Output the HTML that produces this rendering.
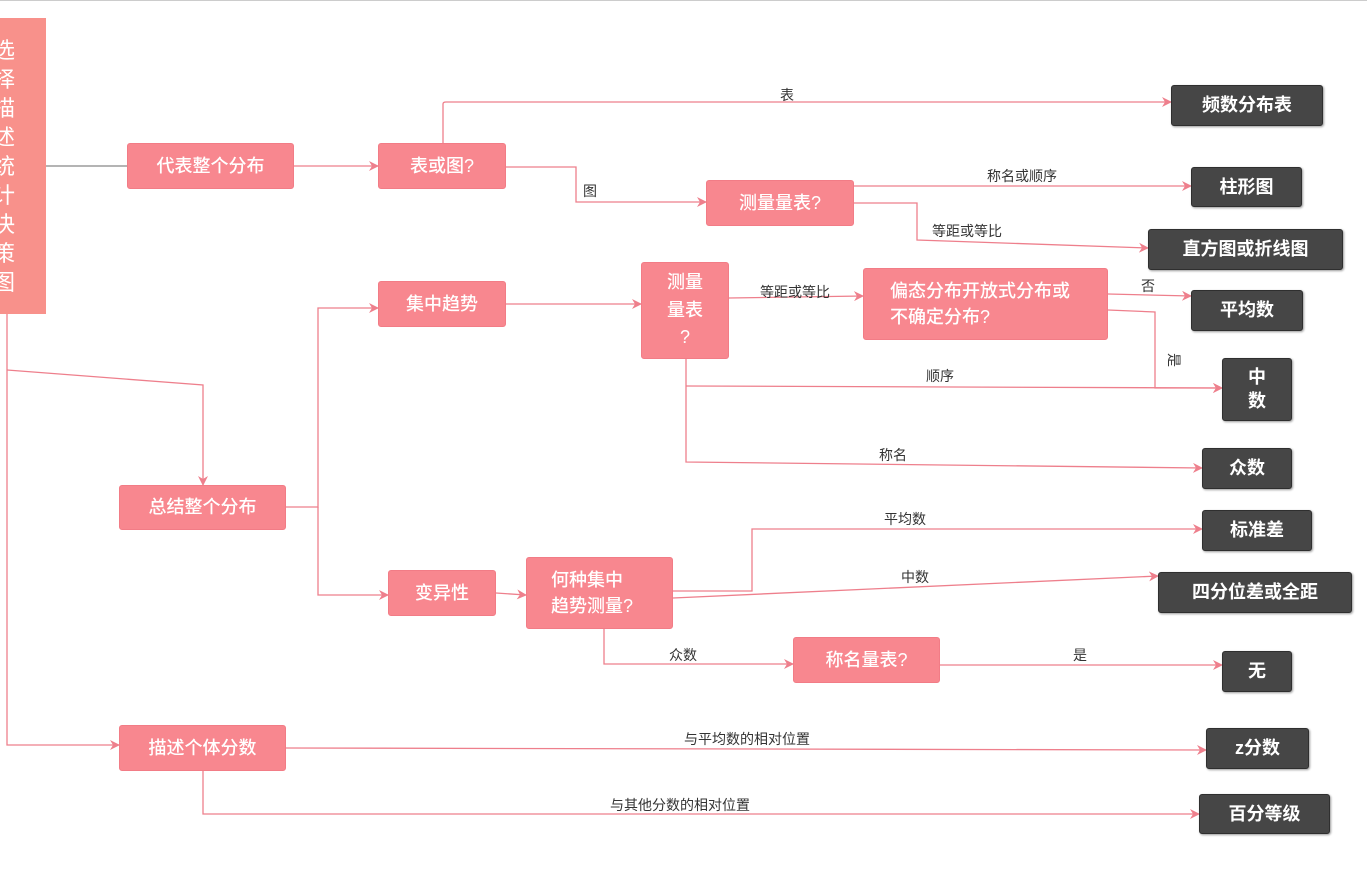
<!DOCTYPE html>
<html><head><meta charset="utf-8"><style>
body{margin:0;width:1367px;height:870px;background:#fff;position:relative;overflow:hidden;font-family:"Liberation Sans","Noto Sans CJK SC",sans-serif}
.n{position:absolute;box-sizing:border-box;display:flex;align-items:center;justify-content:center;color:#fff;font-size:18px;border-radius:3px;text-align:center;line-height:1.45}
.p{background:#f8878f;border:1px solid #f27c86;font-weight:500}
.d{background:#464646;border:1px solid #2f2f2f;font-weight:bold;box-shadow:1px 1px 2px #999;font-size:18px}
.l{position:absolute;font-size:14px;color:#333;white-space:nowrap;transform:translateX(-50%)}
svg{position:absolute;left:0;top:0}
</style></head><body>
<div style="position:absolute;left:0;top:0;width:1367px;height:1px;background:#ccc"></div>
<svg width="1367" height="870" fill="none" stroke="#ee7f8c" stroke-width="1.3">
<defs><marker id="a" markerWidth="10" markerHeight="10" refX="9" refY="5" orient="auto" markerUnits="userSpaceOnUse"><path d="M0,0 L10,5 L0,10 L3,5 z" fill="#ee7f8c" stroke="none"/></marker></defs>
<path d="M46,166 H127" stroke="#888"/>
<path d="M294,166 H378" marker-end="url(#a)"/>
<path d="M443,143 V104 Q443,102 446,102 H1171" marker-end="url(#a)"/>
<path d="M506,167 H576 V202 H706" marker-end="url(#a)"/>
<path d="M854,186 H1191" marker-end="url(#a)"/>
<path d="M854,203 H917 V240 L1148,248" marker-end="url(#a)"/>
<path d="M7,314 V745 H119" marker-end="url(#a)"/>
<path d="M7,370 L203,385 V485" marker-end="url(#a)"/>
<path d="M286,507 H318 V308 H378" marker-end="url(#a)"/>
<path d="M318,507 V595 H388" marker-end="url(#a)"/>
<path d="M506,304 H641" marker-end="url(#a)"/>
<path d="M729,298 L863,296" marker-end="url(#a)"/>
<path d="M1108,294 L1191,296" marker-end="url(#a)"/>
<path d="M1108,310 L1155,312 V388 H1222" marker-end="url(#a)"/>
<path d="M686,359 V462 L1202,468" marker-end="url(#a)"/>
<path d="M686,386 L1222,388" marker-end="url(#a)"/>
<path d="M496,593 L526,595" marker-end="url(#a)"/>
<path d="M673,591 H752 V529 H1202" marker-end="url(#a)"/>
<path d="M673,598 L1158,576" marker-end="url(#a)"/>
<path d="M604,629 V664 H793" marker-end="url(#a)"/>
<path d="M940,665 H1222" marker-end="url(#a)"/>
<path d="M286,748 L1206,750" marker-end="url(#a)"/>
<path d="M203,771 V814 H1199" marker-end="url(#a)"/>
</svg>
<div class="n" style="left:-20px;top:18px;width:66px;height:296px;background:#f8918b;border-radius:0;justify-content:flex-end;padding-right:31px;font-size:22px;line-height:29px;align-items:center">选<br>择<br>描<br>述<br>统<br>计<br>决<br>策<br>图</div>
<div class="n p" style="left:127px;top:143px;width:167px;height:46px">代表整个分布</div>
<div class="n p" style="left:378px;top:143px;width:128px;height:46px">表或图?</div>
<div class="n p" style="left:706px;top:180px;width:148px;height:46px">测量量表?</div>
<div class="n p" style="left:378px;top:281px;width:128px;height:46px">集中趋势</div>
<div class="n p" style="left:641px;top:262px;width:88px;height:97px;line-height:1.55">测量<br>量表<br>?</div>
<div class="n p" style="left:863px;top:268px;width:245px;height:72px;justify-content:flex-start;padding-left:26px;text-align:left">偏态分布开放式分布或<br>不确定分布?</div>
<div class="n p" style="left:119px;top:485px;width:167px;height:45px">总结整个分布</div>
<div class="n p" style="left:388px;top:570px;width:108px;height:46px">变异性</div>
<div class="n p" style="left:526px;top:557px;width:147px;height:72px;justify-content:flex-start;padding-left:24px;text-align:left">何种集中<br>趋势测量?</div>
<div class="n p" style="left:793px;top:637px;width:147px;height:46px">称名量表?</div>
<div class="n p" style="left:119px;top:725px;width:167px;height:46px">描述个体分数</div>
<div class="n d" style="left:1171px;top:85px;width:152px;height:41px">频数分布表</div>
<div class="n d" style="left:1191px;top:167px;width:111px;height:40px">柱形图</div>
<div class="n d" style="left:1148px;top:229px;width:195px;height:41px">直方图或折线图</div>
<div class="n d" style="left:1191px;top:290px;width:112px;height:41px">平均数</div>
<div class="n d" style="left:1222px;top:358px;width:70px;height:63px;line-height:1.3">中<br>数</div>
<div class="n d" style="left:1202px;top:448px;width:90px;height:41px">众数</div>
<div class="n d" style="left:1202px;top:510px;width:110px;height:41px">标准差</div>
<div class="n d" style="left:1158px;top:572px;width:194px;height:41px">四分位差或全距</div>
<div class="n d" style="left:1222px;top:651px;width:70px;height:41px">无</div>
<div class="n d" style="left:1206px;top:728px;width:103px;height:41px">z分数</div>
<div class="n d" style="left:1199px;top:794px;width:131px;height:40px">百分等级</div>
<div class="l" style="left:787px;top:85px">表</div>
<div class="l" style="left:590px;top:181px">图</div>
<div class="l" style="left:1022px;top:166px">称名或顺序</div>
<div class="l" style="left:967px;top:221px">等距或等比</div>
<div class="l" style="left:795px;top:282px">等距或等比</div>
<div class="l" style="left:1148px;top:276px">否</div>
<div class="l" style="left:1167px;top:350px;transform:rotate(90deg)">是</div>
<div class="l" style="left:940px;top:366px">顺序</div>
<div class="l" style="left:893px;top:445px">称名</div>
<div class="l" style="left:905px;top:509px">平均数</div>
<div class="l" style="left:915px;top:567px">中数</div>
<div class="l" style="left:683px;top:645px">众数</div>
<div class="l" style="left:1080px;top:645px">是</div>
<div class="l" style="left:747px;top:729px">与平均数的相对位置</div>
<div class="l" style="left:680px;top:795px">与其他分数的相对位置</div>
</body></html>
